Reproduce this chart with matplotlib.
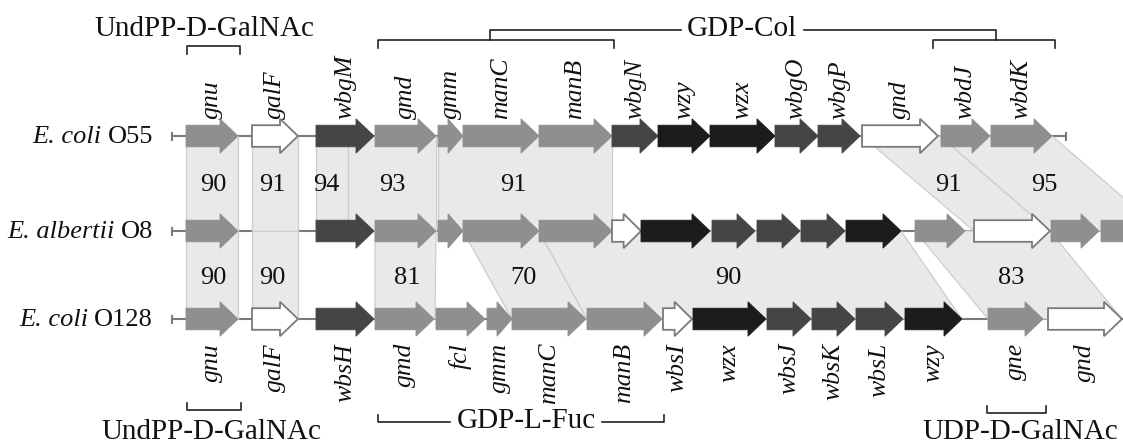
import matplotlib
matplotlib.use("Agg")
import matplotlib.pyplot as plt
from matplotlib.patches import Polygon

plt.rcParams['font.family'] = ['Liberation Serif', 'DejaVu Serif']

# ---------------- data ----------------
row_species = ["E. coli", "E. albertii", "E. coli"]
row_serotype = ["O55", "O8", "O128"]
row_y = [136, 231, 319]
row_line = [(172, 1066), (172, 1130), (172, 1123)]
row_end_tick = [True, False, False]

# genes: names, start, end, kind (g=grey, d=dark grey, k=black, w=white)
o55_names = ["gnu", "galF", "wbgM", "gmd", "gmm", "manC", "manB", "wbgN", "wzy", "wzx",
             "wbgO", "wbgP", "gnd", "wbdJ", "wbdK"]
o55_start = [186, 252, 316, 375, 438, 463, 539, 612, 658, 710, 775, 818, 862, 941, 991]
o55_end = [238, 298, 374, 436, 463, 539, 612, 658, 710, 775, 818, 860, 938, 990, 1052]
o55_kind = ["g", "w", "d", "g", "g", "g", "g", "d", "k", "k", "d", "d", "w", "g", "g"]

o8_start = [186, 316, 375, 438, 463, 539, 612, 641, 712, 757, 801, 846, 915, 974, 1051, 1101]
o8_end = [238, 374, 436, 463, 539, 612, 641, 710, 755, 800, 845, 901, 965, 1050, 1099, 1150]
o8_kind = ["g", "d", "g", "g", "g", "g", "w", "k", "d", "d", "d", "k", "g", "w", "g", "g"]

o128_names = ["gnu", "galF", "wbsH", "gmd", "fcl", "gmm", "manC", "manB", "wbsI", "wzx",
              "wbsJ", "wbsK", "wbsL", "wzy", "gne", "gnd"]
o128_start = [186, 252, 316, 375, 436, 487, 512, 587, 663, 693, 767, 812, 856, 905, 988, 1048]
o128_end = [238, 298, 374, 434, 485, 512, 586, 662, 692, 766, 811, 855, 903, 962, 1043, 1122]
o128_kind = ["g", "w", "d", "g", "g", "g", "g", "g", "w", "k", "d", "d", "d", "k", "g", "w"]

# homology bands: (top x1, top x2, bottom x1, bottom x2), identity %
upper_bands = [(186, 238, 186, 238), (252, 298, 252, 298), (316, 348, 316, 348),
               (348, 436, 348, 436), (438, 612, 438, 612), (862, 940, 974, 1050),
               (940, 1052, 1050, 1162)]
upper_ident = ["90", "91", "94", "93", "91", "91", "95"]
upper_ident_x = [213, 272, 326, 392, 513, 948, 1044]

lower_bands = [(186, 238, 186, 238), (252, 298, 252, 298), (375, 436, 375, 435),
               (463, 539, 512, 587), (539, 901, 587, 962), (915, 1050, 988, 1122)]
lower_ident = ["90", "90", "81", "70", "90", "83"]
lower_ident_x = [213, 272, 407, 523, 728, 1011]

# ---------------- style ----------------
colors = {"g": "#8f8f8f", "d": "#454545", "k": "#1c1c1c", "w": "#ffffff"}
edge = {"g": "#8f8f8f", "d": "#454545", "k": "#1c1c1c", "w": "#7a7a7a"}
BODY = 10.8
HEAD = 17.2
HEADLEN = 18
TXT = "#111111"

fig = plt.figure(figsize=(11.23, 4.43), dpi=100)
ax = fig.add_axes([0, 0, 1, 1])
ax.set_xlim(0, 1123)
ax.set_ylim(443, 0)
ax.axis("off")


def arrow(s, e, y, kind):
    L = e - s
    h = min(HEADLEN, 0.6 * L)
    b = e - h
    pts = [(s, y - BODY), (b, y - BODY), (b, y - HEAD), (e, y), (b, y + HEAD),
           (b, y + BODY), (s, y + BODY)]
    ax.add_patch(Polygon(pts, closed=True, facecolor=colors[kind], edgecolor=edge[kind],
                         linewidth=1.3 if kind == "w" else 0.6, zorder=4, joinstyle="miter"))


def band(yt, yb, q):
    x1, x2, x3, x4 = q
    pts = [(x1, yt), (x2, yt), (x4, yb), (x3, yb)]
    ax.add_patch(Polygon(pts, closed=True, facecolor="#e9e9e9", edgecolor="#cdcdcd",
                         linewidth=0.9, zorder=2))


# backbone lines
for (x0, x1), y, tick in zip(row_line, row_y, row_end_tick):
    ax.plot([x0, x1], [y, y], color="#7a7a7a", lw=1.5, zorder=1, solid_capstyle="butt")
    ax.plot([x0, x0], [y - 3.5, y + 3.5], color="#7a7a7a", lw=1.5, zorder=1)
    if tick:
        ax.plot([x1, x1], [y - 3.5, y + 3.5], color="#7a7a7a", lw=1.5, zorder=1)

# bands
for q in upper_bands:
    band(row_y[0], row_y[1], q)
for q in lower_bands:
    band(row_y[1], row_y[2], q)

for t, x in zip(upper_ident, upper_ident_x):
    ax.text(x, 185, t, ha="center", va="center", fontsize=19, zorder=5, color=TXT)
for t, x in zip(lower_ident, lower_ident_x):
    ax.text(x, 278, t, ha="center", va="center", fontsize=19, zorder=5, color=TXT)

# genes
rows = [(o55_start, o55_end, o55_kind), (o8_start, o8_end, o8_kind),
        (o128_start, o128_end, o128_kind)]
for (st, en, kd), y in zip(rows, row_y):
    for s, e, k in zip(st, en, kd):
        arrow(s, e, y, k)

for n, s, e in zip(o55_names, o55_start, o55_end):
    ax.text((s + e) / 2, 119, n, rotation=90, ha="center", va="bottom", fontsize=18.5,
            fontstyle="italic", color=TXT)
for n, s, e in zip(o128_names, o128_start, o128_end):
    ax.text((s + e) / 2, 343, n, rotation=90, ha="center", va="top", fontsize=18.5,
            fontstyle="italic", color=TXT)

# row labels: italic species + roman serotype
fig.canvas.draw()
renderer = fig.canvas.get_renderer()
inv = ax.transData.inverted()
for sp, st, y in zip(row_species, row_serotype, row_y):
    t2 = ax.text(153, y + 1, st, ha="right", va="center", fontsize=19, color=TXT)
    bb = t2.get_window_extent(renderer)
    xl = inv.transform((bb.x0, bb.y0))[0]
    ax.text(xl - 6, y + 1, sp, ha="right", va="center", fontsize=19, fontstyle="italic",
            color=TXT)

# brackets
bk = dict(color="#222222", lw=1.2, zorder=3)
FS = 21
# top UndPP-D-GalNAc
ax.plot([187, 187, 240, 240], [54, 46, 46, 54], **bk)
ax.text(204, 29, "UndPP-D-GalNAc", ha="center", va="center", fontsize=FS, color=TXT)
# top GDP-Col
ax.plot([378, 378, 614, 614], [48, 40, 40, 48], **bk)
ax.plot([933, 933, 1055, 1055], [48, 40, 40, 48], **bk)
ax.plot([490, 490, 681], [40, 30, 30], **bk)
ax.plot([804, 996, 996], [30, 30, 40], **bk)
ax.text(742, 29, "GDP-Col", ha="center", va="center", fontsize=FS, color=TXT)
# bottom UndPP-D-GalNAc
ax.plot([187, 187, 241, 241], [403, 410, 410, 403], **bk)
ax.text(211, 432, "UndPP-D-GalNAc", ha="center", va="center", fontsize=FS, color=TXT)
# bottom GDP-L-Fuc
ax.plot([378, 378, 450], [415, 422, 422], **bk)
ax.plot([602, 664, 664], [422, 422, 415], **bk)
ax.text(526, 421, "GDP-L-Fuc", ha="center", va="center", fontsize=FS, color=TXT)
# bottom UDP-D-GalNAc
ax.plot([987, 987, 1046, 1046], [406, 413, 413, 406], **bk)
ax.text(1118, 432, "UDP-D-GalNAc", ha="right", va="center", fontsize=FS, color=TXT)

fig.savefig("out.png", dpi=100)
